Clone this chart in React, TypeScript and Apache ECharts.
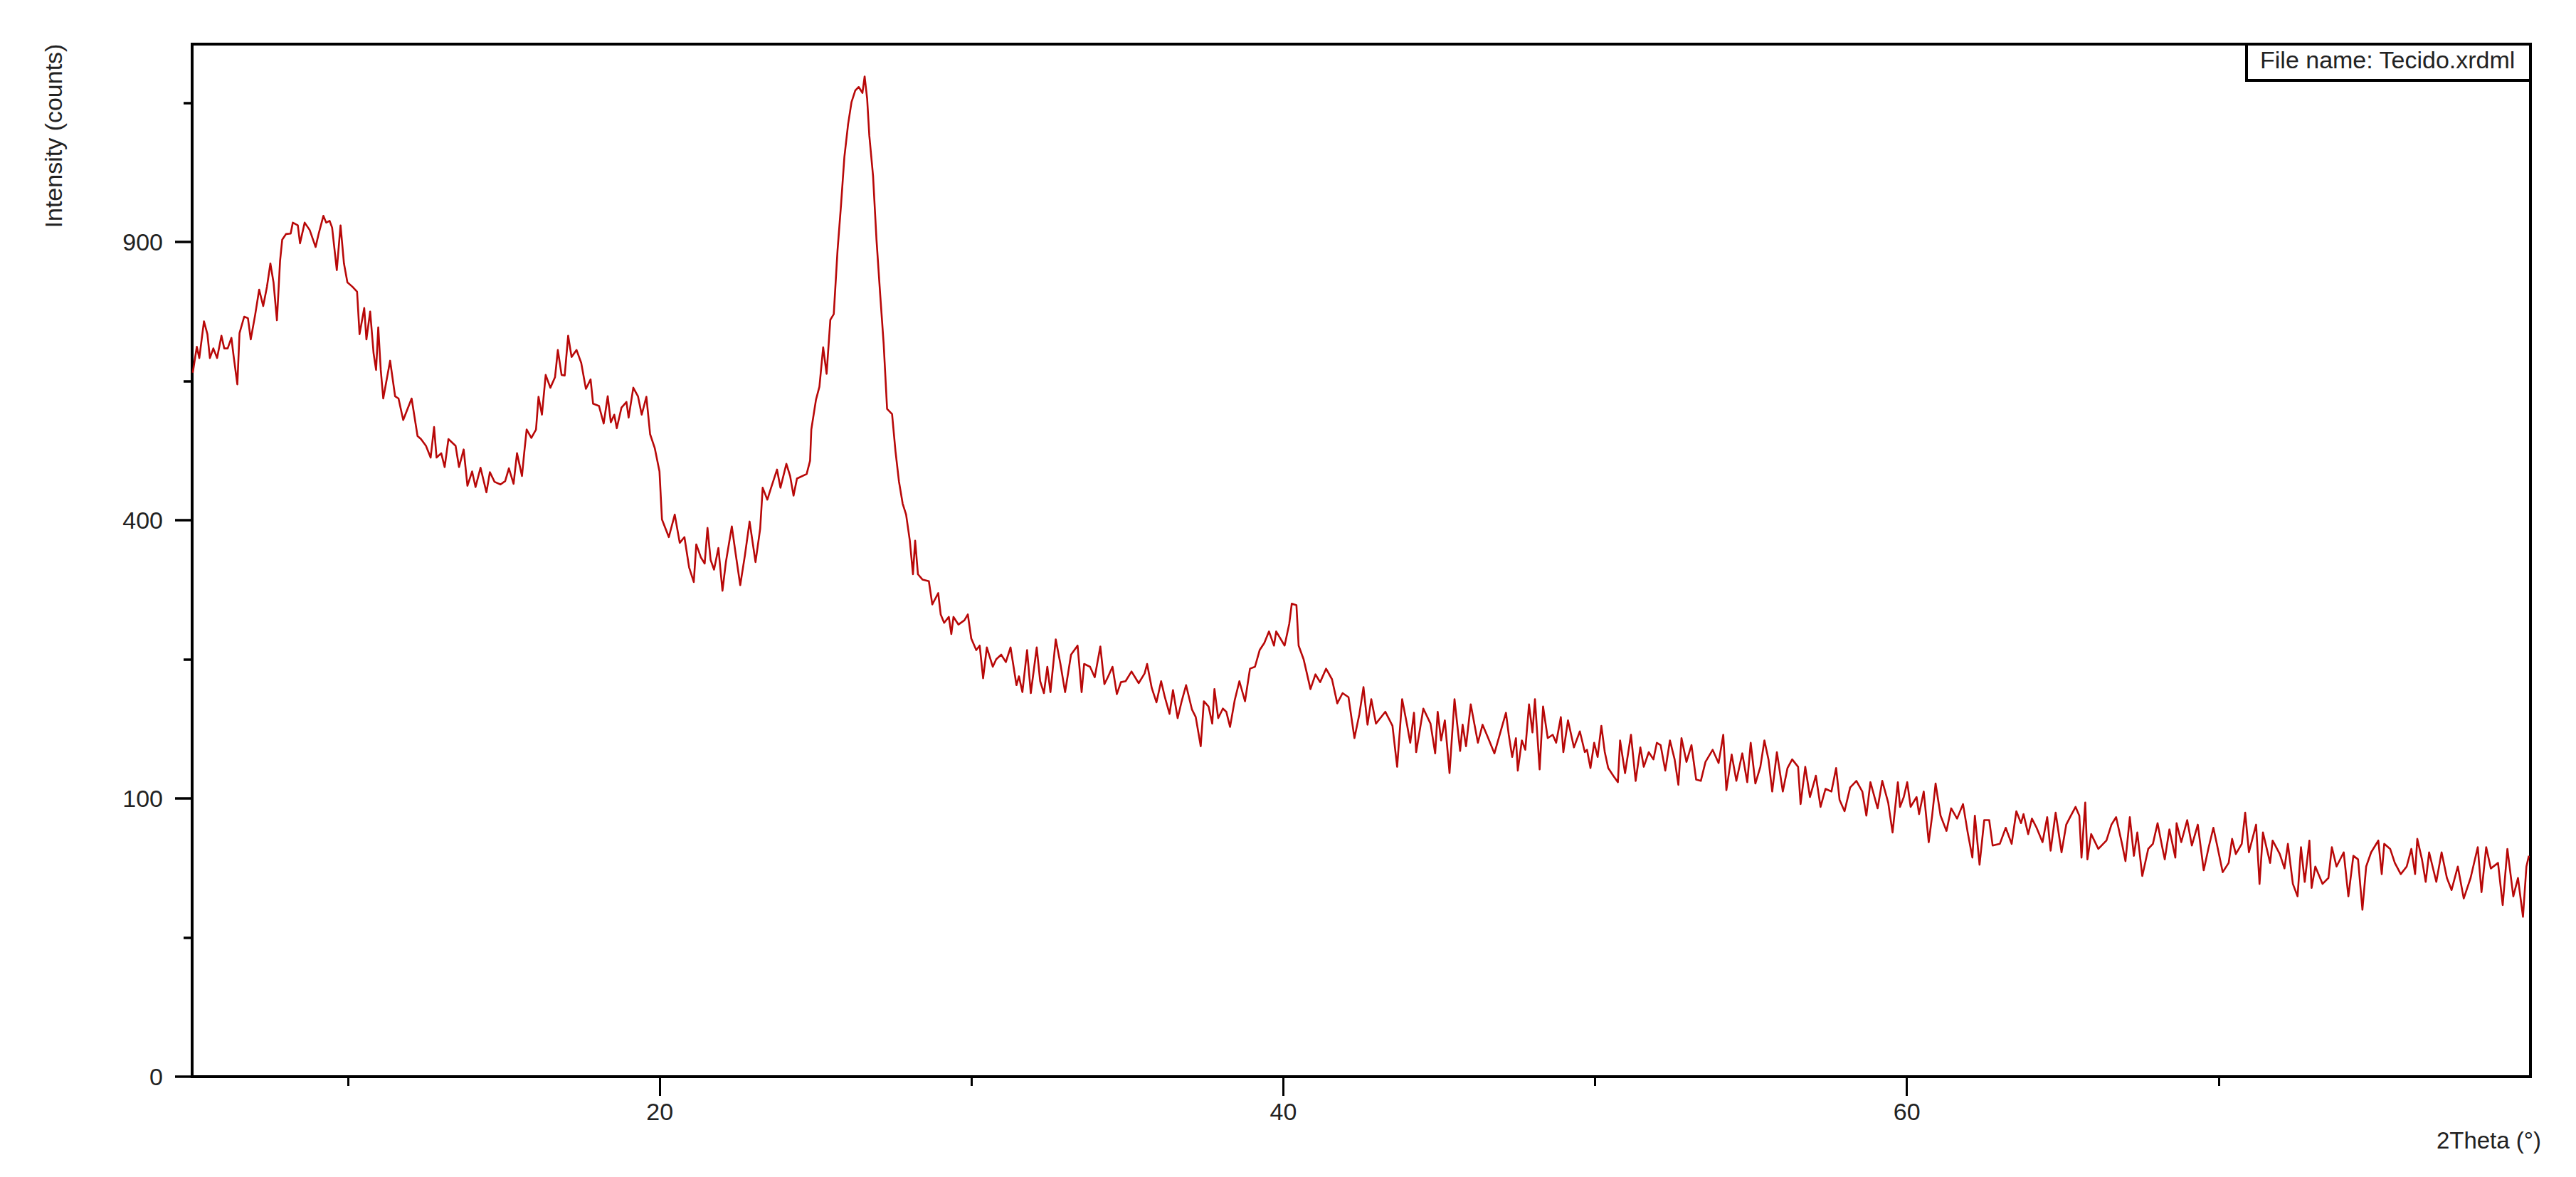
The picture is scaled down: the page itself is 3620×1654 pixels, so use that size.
import React, { useEffect, useRef } from "react";
import * as echarts from "echarts";

// ---- axes ----
const X_MIN = 5;
const X_MAX = 80;
const xLabelTicks = [20, 40, 60];
const xMinorTicks = [10, 30, 50, 70];
const yLabelCounts = [0, 100, 400, 900];
const yMinorCounts = [25, 225, 625, 1225];
const Y_TOP_COUNTS = 1377;

const xAxisTitle = "2Theta (°)";
const yAxisTitle = "Intensity (counts)";
const fileLabel = "File name: Tecido.xrdml";

// ---- scan data: [2theta (deg), intensity (counts)] ----
const scan05to15 = [
  [5.02,640],[5.15,688],[5.23,667],[5.38,737],[5.49,712],[5.57,667],[5.68,685],[5.8,667],[5.94,709],[6.03,685],
  [6.14,685],[6.26,705],[6.33,671],[6.45,619],[6.52,714],[6.67,746],[6.79,743],[6.88,702],[7.02,749],[7.15,800],
  [7.28,767],[7.4,806],[7.51,854],[7.61,815],[7.72,739],[7.82,859],[7.89,905],[8.01,917],[8.16,918],[8.23,942],
  [8.39,936],[8.46,897],[8.61,942],[8.77,926],[8.96,889],[9.06,918],[9.21,957],[9.3,942],[9.41,946],[9.49,931],
  [9.64,840],[9.76,936],[9.87,854],[9.98,815],[10.14,806],[10.29,796],[10.37,712],[10.52,763],[10.59,702],[10.71,756],
  [10.82,676],[10.9,645],[10.97,725],[11.05,645],[11.13,594],[11.35,662],[11.51,598],[11.62,594],[11.77,557],[12.04,594],
  [12.23,530],[12.34,525],[12.5,514],[12.65,495],[12.76,545],[12.84,495],[12.99,502],[13.1,480],[13.22,525],[13.45,514],
  [13.56,480],[13.71,508],[13.83,451],[13.98,473],[14.09,449],[14.25,479],[14.44,441],[14.55,472],[14.7,457],[14.89,453],
];

const scan15to25 = [
  [15.04,458],[15.16,478],[15.31,454],[15.42,502],[15.58,466],[15.65,502],[15.73,541],[15.88,527],[16.03,541],[16.11,597],
  [16.22,566],[16.34,636],[16.49,613],[16.64,632],[16.73,682],[16.85,636],[16.95,635],[17.06,709],[17.17,669],[17.33,682],
  [17.48,658],[17.63,611],[17.78,628],[17.86,585],[18.05,581],[18.2,551],[18.33,598],[18.43,553],[18.54,566],[18.62,543],
  [18.77,578],[18.93,588],[19.0,561],[19.15,613],[19.3,598],[19.42,566],[19.57,597],[19.69,533],[19.84,510],[19.99,473],
  [20.07,401],[20.29,376],[20.48,408],[20.64,368],[20.79,376],[20.94,335],[21.09,316],[21.17,366],[21.32,348],[21.44,340],
  [21.53,389],[21.63,345],[21.74,332],[21.88,361],[22.01,305],[22.12,342],[22.31,391],[22.43,354],[22.58,312],[22.73,351],
  [22.88,398],[23.07,342],[23.22,388],[23.3,448],[23.45,430],[23.57,448],[23.76,476],[23.87,448],[24.06,485],[24.18,466],
  [24.29,436],[24.4,462],[24.71,469],[24.82,490],
];

const scan25to30 = [
  [24.86,541],[25.01,592],[25.12,615],[25.24,687],[25.35,638],[25.47,740],[25.58,751],[25.7,881],[25.81,979],[25.92,1092],
  [26.04,1172],[26.15,1227],[26.27,1256],[26.38,1265],[26.5,1250],[26.57,1292],[26.65,1236],[26.72,1144],[26.84,1048],[26.95,905],
  [27.07,789],[27.18,694],[27.29,576],[27.45,567],[27.56,505],[27.67,458],[27.79,424],[27.9,408],[28.02,371],[28.12,326],
  [28.19,371],[28.28,326],[28.43,319],[28.63,317],[28.74,288],[28.93,302],[29.01,276],[29.12,266],[29.27,273],[29.35,253],
  [29.42,273],[29.58,264],[29.77,269],
];

const scan30to40 = [
  [29.88,276],[29.99,248],[30.15,235],[30.26,240],[30.37,205],[30.49,238],[30.68,217],[30.79,225],[30.95,230],[31.1,222],
  [31.25,238],[31.44,198],[31.52,207],[31.63,191],[31.78,235],[31.9,190],[32.09,238],[32.2,202],[32.32,190],[32.43,217],
  [32.53,191],[32.7,247],[32.85,220],[33.0,191],[33.19,230],[33.4,240],[33.53,191],[33.61,220],[33.8,217],[33.95,206],
  [34.13,239],[34.26,199],[34.37,206],[34.52,217],[34.66,189],[34.79,201],[34.94,202],[35.13,212],[35.36,200],[35.55,210],
  [35.63,220],[35.78,195],[35.93,181],[36.08,202],[36.2,186],[36.35,170],[36.46,193],[36.61,166],[36.73,181],[36.88,198],
  [37.07,174],[37.19,167],[37.35,141],[37.45,182],[37.6,177],[37.72,161],[37.79,194],[37.91,166],[38.06,175],[38.17,172],
  [38.29,158],[38.44,183],[38.59,202],[38.77,182],[38.93,215],[39.09,217],[39.24,235],[39.39,243],[39.54,256],
];

const scan40to50 = [
  [39.7,240],[39.77,256],[40.04,240],[40.19,265],[40.27,289],[40.42,287],[40.49,240],[40.65,225],[40.72,215],[40.87,194],
  [41.03,209],[41.18,201],[41.37,215],[41.56,204],[41.73,180],[41.9,190],[42.09,186],[42.28,148],[42.44,170],[42.57,196],
  [42.7,160],[42.82,184],[42.97,161],[43.27,172],[43.5,159],[43.65,124],[43.81,184],[43.96,161],[44.07,144],[44.19,171],
  [44.26,136],[44.49,175],[44.72,161],[44.87,135],[44.95,172],[45.06,146],[45.18,164],[45.33,119],[45.49,184],[45.67,137],
  [45.75,160],[45.86,141],[46.01,179],[46.24,144],[46.39,160],[46.54,150],[46.77,135],[47.0,157],[47.14,171],[47.23,151],
  [47.34,132],[47.46,148],[47.52,121],[47.65,146],[47.76,138],[47.88,179],[47.99,153],[48.07,184],[48.22,122],[48.33,177],
  [48.48,148],[48.64,151],[48.75,144],[48.9,167],[48.98,136],[49.13,164],[49.32,140],[49.51,154],[49.67,136],
];

const scan50to60 = [
  [49.74,138],[49.85,123],[49.97,144],[50.08,132],[50.2,159],[50.31,136],[50.42,123],[50.58,117],[50.73,112],[50.8,146],
  [50.96,119],[51.15,151],[51.3,113],[51.45,140],[51.56,124],[51.72,136],[51.87,130],[51.98,144],[52.1,142],[52.25,121],
  [52.4,146],[52.55,130],[52.67,110],[52.77,148],[52.93,128],[53.09,142],[53.24,114],[53.39,113],[53.54,128],[53.77,138],
  [53.96,127],[54.11,151],[54.21,106],[54.38,134],[54.53,113],[54.72,135],[54.88,112],[54.99,144],[55.14,111],[55.3,124],
  [55.43,146],[55.56,130],[55.68,105],[55.83,136],[56.02,105],[56.17,123],[56.32,130],[56.51,124],[56.59,96],[56.74,124],
  [56.89,101],[57.08,117],[57.23,94],[57.39,107],[57.58,105],[57.73,123],[57.84,99],[58.0,91],[58.18,108],[58.38,113],
  [58.57,105],[58.7,88],[58.83,112],[59.06,93],[59.21,113],[59.4,97],[59.54,77],[59.71,112],
];

const scan60to70 = [
  [59.78,94],[59.9,101],[60.01,112],[60.12,94],[60.31,101],[60.39,89],[60.54,105],[60.7,71],[60.81,88],[60.92,111],
  [61.08,88],[61.27,78],[61.42,93],[61.61,86],[61.8,96],[61.95,77],[62.1,62],[62.18,88],[62.33,58],[62.48,85],
  [62.64,85],[62.75,69],[62.98,70],[63.17,80],[63.36,70],[63.51,91],[63.66,83],[63.74,89],[63.89,76],[64.01,86],
  [64.16,80],[64.35,71],[64.5,87],[64.61,66],[64.77,90],[64.96,65],[65.11,82],[65.26,88],[65.41,94],[65.53,88],
  [65.6,62],[65.72,97],[65.79,61],[65.91,76],[66.14,67],[66.4,72],[66.56,82],[66.71,87],[66.9,70],[67.01,60],
  [67.15,87],[67.28,63],[67.39,77],[67.55,52],[67.74,67],[67.89,70],[68.04,83],[68.19,68],[68.27,61],[68.42,79],
  [68.61,62],[68.65,83],[68.8,71],[68.99,85],[69.14,69],[69.33,82],[69.52,55],[69.68,68],
];

const scan70to80 = [
  [69.83,80],[69.94,70],[70.13,54],[70.32,59],[70.43,73],[70.55,64],[70.74,70],[70.85,90],[70.97,65],[71.2,82],
  [71.31,48],[71.42,77],[71.65,59],[71.73,72],[71.96,64],[72.11,56],[72.22,70],[72.38,48],[72.53,42],[72.64,68],
  [72.76,49],[72.91,72],[72.98,46],[73.1,57],[73.33,48],[73.52,51],[73.63,68],[73.78,57],[74.01,65],[74.16,42],
  [74.32,63],[74.47,61],[74.61,36],[74.73,57],[74.89,65],[75.12,72],[75.23,53],[75.31,70],[75.5,67],[75.65,59],
  [75.84,53],[76.03,57],[76.18,67],[76.3,53],[76.37,73],[76.52,61],[76.64,49],[76.75,65],[76.98,49],[77.15,65],
  [77.32,51],[77.47,45],[77.67,57],[77.86,41],[78.08,51],[78.31,68],[78.43,44],[78.58,68],[78.73,56],[78.96,59],
  [79.11,38],[79.26,67],[79.45,42],[79.6,51],[79.76,33],[79.87,57],[79.95,63],
];

const FONT = "'Liberation Sans', Arial, sans-serif";

export default function App() {
  const ref = useRef<HTMLDivElement>(null);

  useEffect(() => {
    if (!ref.current) return;
    const chart = echarts.init(ref.current, null, { renderer: "svg" });

    const scan = [
      ...scan05to15, ...scan15to25, ...scan25to30, ...scan30to40,
      ...scan40to50, ...scan50to60, ...scan60to70, ...scan70to80,
    ];
    // square-root intensity scale
    const data = scan.map(([t, c]) => [t, Math.sqrt(c)]);
    const yMax = Math.sqrt(Y_TOP_COUNTS);
    const yLabelVals = yLabelCounts.map((c) => Math.sqrt(c));
    const yMinorVals = yMinorCounts.map((c) => Math.sqrt(c));

    const axisColor = "#000";
    const textColor = "#222";
    const lineColor = "#b80808";

    chart.setOption({
      animation: false,
      backgroundColor: "#fff",
      grid: {
        left: 270,
        right: 64,
        top: 62,
        bottom: 141,
        show: true,
        borderColor: axisColor,
        borderWidth: 4,
        backgroundColor: "transparent",
      },
      xAxis: [
        {
          type: "value",
          min: X_MIN,
          max: X_MAX,
          position: "bottom",
          axisLine: { show: true, onZero: false, lineStyle: { color: axisColor, width: 4 } },
          axisTick: {
            show: true,
            customValues: xLabelTicks,
            length: 27,
            inside: false,
            lineStyle: { color: axisColor, width: 3 },
          },
          axisLabel: {
            show: true,
            customValues: xLabelTicks,
            margin: 32,
            fontSize: 34,
            fontFamily: FONT,
            color: textColor,
          },
          splitLine: { show: false },
        },
        {
          type: "value",
          min: X_MIN,
          max: X_MAX,
          position: "bottom",
          axisLine: { show: false, onZero: false },
          axisTick: {
            show: true,
            customValues: xMinorTicks,
            length: 13,
            inside: false,
            lineStyle: { color: axisColor, width: 3 },
          },
          axisLabel: { show: false },
          splitLine: { show: false },
        },
      ],
      yAxis: [
        {
          type: "value",
          min: 0,
          max: yMax,
          position: "left",
          axisLine: { show: true, onZero: false, lineStyle: { color: axisColor, width: 4 } },
          axisTick: {
            show: true,
            customValues: yLabelVals,
            length: 24,
            inside: false,
            lineStyle: { color: axisColor, width: 3.5 },
          },
          axisLabel: {
            show: true,
            customValues: yLabelVals,
            formatter: (v: number) => String(Math.round(v * v)),
            margin: 41,
            fontSize: 34,
            fontFamily: FONT,
            color: textColor,
          },
          splitLine: { show: false },
        },
        {
          type: "value",
          min: 0,
          max: yMax,
          position: "left",
          axisLine: { show: false, onZero: false },
          axisTick: {
            show: true,
            customValues: yMinorVals,
            length: 12,
            inside: false,
            lineStyle: { color: axisColor, width: 3.5 },
          },
          axisLabel: { show: false },
          splitLine: { show: false },
        },
      ],
      series: [
        {
          type: "line",
          xAxisIndex: 0,
          yAxisIndex: 0,
          data,
          showSymbol: false,
          symbol: "none",
          clip: true,
          lineStyle: { color: lineColor, width: 2.6, join: "round" },
          itemStyle: { color: lineColor },
          z: 3,
        },
      ],
      graphic: [
        {
          type: "text",
          x: 75,
          y: 191,
          rotation: Math.PI / 2,
          style: {
            text: yAxisTitle,
            fontSize: 34,
            fontFamily: FONT,
            fill: textColor,
            align: "center",
            verticalAlign: "middle",
          },
        },
        {
          type: "text",
          x: 3571,
          y: 1602,
          style: {
            text: xAxisTitle,
            fontSize: 33,
            fontFamily: FONT,
            fill: textColor,
            align: "right",
            verticalAlign: "middle",
          },
        },
        {
          type: "rect",
          shape: { x: 3157, y: 62, width: 399, height: 51 },
          style: { fill: "#fff", stroke: "#000", lineWidth: 4 },
          z: 100,
        },
        {
          type: "text",
          x: 3176,
          y: 84,
          z: 101,
          style: {
            text: fileLabel,
            fontSize: 34,
            fontFamily: FONT,
            fill: textColor,
            align: "left",
            verticalAlign: "middle",
          },
        },
      ],
    });

    return () => chart.dispose();
  }, []);

  return (
    <div
      ref={ref}
      style={{
        position: "fixed",
        left: 0,
        top: 0,
        width: 3620,
        height: 1654,
        background: "#fff",
      }}
    />
  );
}
